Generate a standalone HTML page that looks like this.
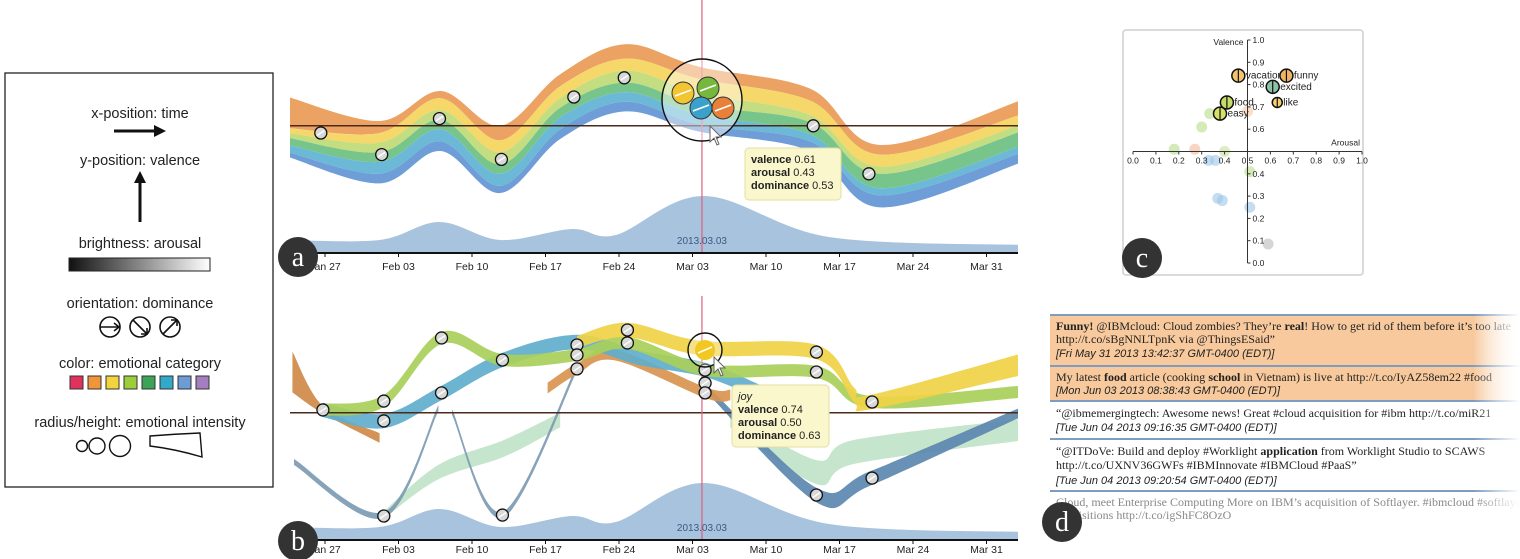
<!DOCTYPE html>
<html><head><meta charset="utf-8">
<style>
html,body{margin:0;padding:0;background:#fff;}
svg{display:block;font-family:"Liberation Sans",sans-serif;}
</style></head>
<body>
<svg id="fig" width="1520" height="559" viewBox="0 0 1520 559" xmlns="http://www.w3.org/2000/svg">
<defs>
  <linearGradient id="bright" x1="0" x2="1" y1="0" y2="0">
    <stop offset="0" stop-color="#111"/><stop offset="1" stop-color="#fff"/>
  </linearGradient>
  <linearGradient id="fadeR" x1="0" x2="1">
    <stop offset="0" stop-color="#f7c99c"/><stop offset="0.9" stop-color="#f7c99c"/><stop offset="1" stop-color="#fff"/>
  </linearGradient>
  <linearGradient id="fadeText" x1="0" x2="1">
    <stop offset="0.9" stop-color="#fff" stop-opacity="0"/><stop offset="1" stop-color="#fff" stop-opacity="1"/>
  </linearGradient>
  <clipPath id="clipA"><rect x="290" y="0" width="728" height="253"/></clipPath>
  <clipPath id="clipB"><rect x="290" y="296" width="728" height="244"/></clipPath>
  <clipPath id="clipD"><rect x="1045" y="300" width="475" height="230"/></clipPath>
</defs>

<!-- Legend -->
<g>
  <rect x="5" y="73" width="268" height="414" fill="#fff" stroke="#222" stroke-width="1.3"/>
  <g font-size="14.5" fill="#222" text-anchor="middle">
    <text x="140" y="118">x-position: time</text>
    <text x="140" y="165">y-position: valence</text>
    <text x="140" y="248">brightness: arousal</text>
    <text x="140" y="308">orientation: dominance</text>
    <text x="140" y="368">color: emotional category</text>
    <text x="140" y="427">radius/height: emotional intensity</text>
  </g>
  <g stroke="#111" stroke-width="3" fill="#111">
    <line x1="114" y1="131" x2="158" y2="131"/><path d="M154,125 L166,131 L154,137 Z" stroke="none"/>
  </g>
  <g stroke="#111" stroke-width="3" fill="#111">
    <line x1="140" y1="222" x2="140" y2="180"/><path d="M134,183 L140,171 L146,183 Z" stroke="none"/>
  </g>
  <rect x="69" y="258" width="141" height="13" fill="url(#bright)" stroke="#222" stroke-width="1"/>
  <g fill="none" stroke="#111" stroke-width="1.6">
    <circle cx="110" cy="327" r="10"/><line x1="100" y1="327" x2="119" y2="327"/><path d="M114,323 L119,327 L114,331"/>
    <circle cx="140" cy="327" r="10"/><line x1="133" y1="320" x2="147" y2="334"/><path d="M141,334 L147,334 L147,328"/>
    <circle cx="170" cy="327" r="10"/><line x1="163" y1="334" x2="177" y2="320"/><path d="M171,320 L177,320 L177,326"/>
  </g>
  <g stroke="#333" stroke-width="1">
    <rect x="70" y="376" width="13" height="13" fill="#e0325d"/>
    <rect x="88" y="376" width="13" height="13" fill="#f0953a"/>
    <rect x="106" y="376" width="13" height="13" fill="#f3d43e"/>
    <rect x="124" y="376" width="13" height="13" fill="#9dce3a"/>
    <rect x="142" y="376" width="13" height="13" fill="#3ca456"/>
    <rect x="160" y="376" width="13" height="13" fill="#33a9c9"/>
    <rect x="178" y="376" width="13" height="13" fill="#6d9bd6"/>
    <rect x="196" y="376" width="13" height="13" fill="#a57ec0"/>
  </g>
  <g fill="none" stroke="#111" stroke-width="1.4">
    <circle cx="82" cy="446" r="5.5"/><circle cx="97" cy="446" r="8"/><circle cx="120" cy="446" r="10.5"/>
    <path d="M150,436 Q175,434 200,433 L202,457 Q175,449 150,446 Z"/>
  </g>
</g>

<g id="panelA"></g>
<g id="panelB"></g>
<g id="panelC"></g>
<g id="panelD"></g>
<g id="labels"></g>
</svg>

<script>
// ---------- shared time axis data ----------
const tickDays = [0,7,14,21,28,35,42,49,56,63];
const tickLabels = ['Jan 27','Feb 03','Feb 10','Feb 17','Feb 24','Mar 03','Mar 10','Mar 17','Mar 24','Mar 31'];
const selectedDay = 35.9;
const neutralValence = 0.53;

// ---------- panel a data ----------
const aDays    = [-3.5, 5.2, 11, 16.7, 22.4, 28.6, 35.7, 46.2, 52.9, 66.5];
const aCenter  = [0.525,0.42,0.55,0.39,0.61,0.73,0.64,0.555,0.32,0.51];
const aOrange  = [0.13,0.05,0.03,0.06,0.05,0.06,0.05,0.05,0.04,0.06];
const aYellow  = [0.02,0.04,0.05,0.05,0.05,0.05,0.06,0.06,0.05,0.04];
const aLGreen  = [0.02,0.04,0.04,0.05,0.04,0.05,0.05,0.03,0.03,0.03];
const aGreen   = [0.03,0.04,0.04,0.04,0.04,0.04,0.04,0.05,0.06,0.06];
const aTeal    = [0.03,0.05,0.05,0.05,0.05,0.04,0.04,0.03,0.03,0.03];
const aBlue    = [0.02,0.04,0.04,0.03,0.04,0.04,0.03,0.04,0.05,0.04];
const aMarkDays = [-0.4,5.4,10.9,16.8,23.7,28.5,46.5,51.8];
const aMarkVal  = [0.50,0.41,0.56,0.39,0.65,0.73,0.53,0.33];
const volDays  = [-3.5,5.2,10.9,16.7,23.5,27.7,36.1,48,66.5];
const volVals  = [13,13,31,13,24,18,57,16,8];

// ---------- panel b data ----------
const bYellowDays=[24,28.8,35.8,46.8,50.4,52,66.1], bYellowVal=[.825,.875,.80,.783,.604,.575,.729], bYellowW=[.05,.06,.06,.06,.06,.06,.09];
const bLimeDays=[-0.2,5.6,11.1,16.9,24,28.8,36.3,46.8,52,66.1], bLimeVal=[.542,.579,.842,.75,.771,.821,.708,.70,.575,.617];
const bTealDays=[-0.2,5.6,11.1,16.9,24,30,36.3,41.4], bTealVal=[.542,.496,.613,.75,.825,.758,.708,.617];
const bOrange1Days=[-3.1,-0.2,5.2], bOrange1Val=[.70,.542,.425], bOrange1W=[.17,.03,.04];
const bOrange2Days=[21.2,24,27.6,36.3,38.6], bOrange2Val=[.633,.713,.771,.613,.604];
const bSteel1Days=[-2.95,5.6,10.8], bSteel1Val=[.325,.104,.55];
const bSteel2Days=[12.1,16.9,24], bSteel2Val=[.533,.104,.717];
const bSteel3Days=[36.3,46.8,52,66.1], bSteel3Val=[.633,.1875,.258,.529];
const bPaleLDays=[5.6,10.8,17.1,22.4], bPaleLVal=[.104,.283,.383,.5];
const bPaleRDays=[38.6,46.8,50.4,66.1], bPaleRVal=[.5,.283,.367,.458];
const bMarkDays=[-0.2,5.6,5.6,11.1,11.1,5.6,16.9,16.9,24,24,24,28.8,28.8,36.2,36.2,36.2,46.8,46.8,46.8,52.1,52.1];
const bMarkVal =[.542,.579,.496,.842,.613,.10,.75,.104,.8125,.771,.713,.875,.821,.708,.654,.613,.783,.70,.1875,.575,.258];

// ---------- panel c data ----------
const cWords   = ['vacation','funny','excited','like','food','easy'];
const cArousal = [0.46,0.67,0.61,0.63,0.41,0.38];
const cValence = [0.84,0.84,0.79,0.72,0.72,0.67];
const cColors  = ['#f3c46c','#f0b464','#8fc0a8','#f5cf6e','#c6dc66','#d6df6a'];
const cFadeA   = [0.335,0.30,0.18,0.27,0.40,0.33,0.36,0.51,0.37,0.39,0.51,0.59,0.50];
const cFadeV   = [0.67,0.61,0.51,0.51,0.50,0.46,0.46,0.41,0.29,0.28,0.25,0.085,0.68];
const cFadeC   = ['#b7dc88','#b7dc88','#b7dc88','#f3b89a','#c6e09a','#9fc6e6','#9fc6e6','#b7dc88','#9fc6e6','#9fc6e6','#9fc6e6','#bbbbbb','#f6c9a4'];
const cTicks   = [0,0.1,0.2,0.3,0.4,0.5,0.6,0.7,0.8,0.9,1.0];

const NS='http://www.w3.org/2000/svg';
function el(tag, attrs, parent){const e=document.createElementNS(NS,tag);for(const k in attrs)e.setAttribute(k,attrs[k]);if(parent)parent.appendChild(e);return e;}
function cr(pts){let d='';for(let i=0;i<pts.length-1;i++){const p0=pts[i-1]||pts[i],p1=pts[i],p2=pts[i+1],p3=pts[i+2]||p2;
  const c1=[p1[0]+(p2[0]-p0[0])/6,p1[1]+(p2[1]-p0[1])/6],c2=[p2[0]-(p3[0]-p1[0])/6,p2[1]-(p3[1]-p1[1])/6];
  d+=`C${c1[0].toFixed(1)},${c1[1].toFixed(1)} ${c2[0].toFixed(1)},${c2[1].toFixed(1)} ${p2[0].toFixed(1)},${p2[1].toFixed(1)}`;}return d;}
function band(up,lo){const r=lo.slice().reverse();return `M${up[0][0]},${up[0][1]}`+cr(up)+`L${r[0][0]},${r[0][1]}`+cr(r)+'Z';}
const xT = d => 325 + d*10.5;

function timeAxis(g, base, offset){
  const ax=el('line',{x1:290,y1:base,x2:1018,y2:base,stroke:'#111','stroke-width':2},g);
  
  
  tickDays.forEach((d,i)=>{
    const t=el('line',{x1:xT(d),y1:base,x2:xT(d),y2:base+4,stroke:'#111','stroke-width':1},g);
    
    
    const tx=el('text',{x:xT(d),y:base+offset,'font-size':10.5,fill:'#222','text-anchor':'middle'},g);
    tx.textContent=tickLabels[i];
    
    
  });
}
function volume(g, base, label){
  const pts=volDays.map((d,i)=>[xT(d),base-volVals[i]]);
  const p=el('path',{d:`M${pts[0][0]},${base}L${pts[0][0]},${pts[0][1]}`+cr(pts)+`L${pts[pts.length-1][0]},${base}Z`,fill:'#a8c3de'},g);
  
  
  const t=el('text',{x:xT(selectedDay),y:base-9,'font-size':10,fill:'#3a5a80','text-anchor':'middle'},g);
  t.textContent=label;
  
  
}
function marker(g,x,y,r){
  const m=el('g',{},g);
  
  
  el('circle',{cx:x,cy:y,r:r,fill:'#d8d8d8',stroke:'#111','stroke-width':1.3},m);
  el('line',{x1:x-r*0.6,y1:y+r*0.4,x2:x+r*0.6,y2:y-r*0.4,stroke:'#fff','stroke-width':1.4},m);
}
function tooltip(g,x,y,w,h,lines){
  const t=el('g',{},g);
  
  
  el('rect',{x:x,y:y,width:w,height:h,rx:4,fill:'#fbf7cc',stroke:'#e4dca0','stroke-width':1},t);
  lines.forEach((ln,i)=>{
    const tx=el('text',{x:x+6,y:y+15+i*13,'font-size':11,fill:'#222'},t);
    if(ln[0]==='joy'){tx.setAttribute('font-style','italic');tx.textContent='joy';}
    else{const b=el('tspan',{'font-weight':'bold'},tx);b.textContent=ln[0];const s=el('tspan',{},tx);s.textContent=' '+ln[1];}
  });
}
function cursor(g,x,y){
  const c=el('path',{d:`M${x},${y} L${x},${y+16} L${x+4},${y+12} L${x+7},${y+19} L${x+9},${y+18} L${x+6},${y+11} L${x+11},${y+11} Z`,fill:'#fff',stroke:'#666','stroke-width':1},g);
  
  
}

// ---------- panel a ----------
(function(){
  const g=document.getElementById('panelA');
  const yA=v=>253-v*240;
  const plot=el('g',{'clip-path':'url(#clipA)'},g);
  
  
  volume(plot,253,'2013.03.03');
  const layers=[aOrange,aYellow,aLGreen,aGreen,aTeal,aBlue];
  const cols=['#eba262','#f5d76a','#c4dd80','#78c58c','#6bb9d6','#6f9dd7'];
  const names=['orange-layer','yellow-layer','light-green-layer','green-layer','teal-layer','blue-layer'];
  let top=aDays.map((d,i)=>{const tot=layers.reduce((s,L)=>s+L[i],0);return aCenter[i]+tot/2;});
  layers.forEach((L,k)=>{
    const bot=top.map((t,i)=>t-L[i]);
    const up=aDays.map((d,i)=>[xT(d),yA(top[i])]), lo=aDays.map((d,i)=>[xT(d),yA(bot[i])]);
    const p=el('path',{d:band(up,lo),fill:cols[k]},plot);
    
    
    top=bot;
  });
  const hl=el('line',{x1:290,y1:yA(neutralValence),x2:1018,y2:yA(neutralValence),stroke:'#4a2a1a','stroke-width':1.5},plot);
  
  
  const vl=el('line',{x1:xT(selectedDay),y1:0,x2:xT(selectedDay),y2:253,stroke:'#e0607a','stroke-width':1.2},plot);
  
  
  aMarkDays.forEach((d,i)=>marker(plot,xT(d),yA(aMarkVal[i]),6));
  // selected magnified group
  const sel=el('g',{},plot);
  
  
  el('ellipse',{cx:702,cy:100,rx:40,ry:41,fill:'rgba(255,255,255,0.45)',stroke:'#111','stroke-width':1.4},sel);
  [[683,93,'#f3c531'],[708,88,'#76b83e'],[701,108,'#3aa0cc'],[723,108,'#e8803a']].forEach(c=>{
    el('circle',{cx:c[0],cy:c[1],r:11,fill:c[2],stroke:'#333','stroke-width':1},sel);
    el('line',{x1:c[0]-8,y1:c[1]+3,x2:c[0]+8,y2:c[1]-3,stroke:'#fff','stroke-width':1.6},sel);
  });
  cursor(plot,710,126);
  timeAxis(g,253,17);
  tooltip(g,745,148,96,52,[['valence','0.61'],['arousal','0.43'],['dominance','0.53']]);
})();

// ---------- panel b ----------
(function(){
  const g=document.getElementById('panelB');
  const yB=v=>540-v*240;
  const plot=el('g',{'clip-path':'url(#clipB)'},g);
  
  
  volume(plot,540,'2013.03.03');
  function ribbon(days,vals,w,color,name,op){
    const ws=Array.isArray(w)?w:days.map(()=>w);
    const up=days.map((d,i)=>[xT(d),yB(vals[i]+ws[i]/2)]), lo=days.map((d,i)=>[xT(d),yB(vals[i]-ws[i]/2)]);
    const p=el('path',{d:band(up,lo),fill:color,opacity:op||0.92},plot);
    
    
  }
  ribbon(bPaleLDays,bPaleLVal,[.03,.06,.07,.06],'#bfe2c6','pale-green-ribbon-left',0.9);
  ribbon(bPaleRDays,bPaleRVal,[.06,.1,.1,.09],'#bfe2c6','pale-green-ribbon-right',0.9);
  ribbon(bSteel1Days,bSteel1Val,.025,'#7d9bb3','steel-ribbon-1');
  ribbon(bSteel2Days,bSteel2Val,.025,'#7d9bb3','steel-ribbon-2');
  ribbon(bSteel3Days,bSteel3Val,[.03,.06,.06,.04],'#5c88b0','steel-ribbon-3');
  ribbon(bOrange1Days,bOrange1Val,bOrange1W,'#d08a48','orange-ribbon-left');
  ribbon(bOrange2Days,bOrange2Val,.045,'#d99450','orange-ribbon-mid');
  ribbon(bTealDays,bTealVal,.06,'#5faecb','teal-ribbon');
  ribbon(bLimeDays,bLimeVal,.05,'#a9cf5a','lime-ribbon');
  ribbon(bYellowDays,bYellowVal,bYellowW,'#f0d346','yellow-ribbon');
  const hl=el('line',{x1:290,y1:yB(neutralValence),x2:1018,y2:yB(neutralValence),stroke:'#4a2a1a','stroke-width':1.5},plot);
  
  
  const vl=el('line',{x1:xT(selectedDay),y1:296,x2:xT(selectedDay),y2:540,stroke:'#e0607a','stroke-width':1.2},plot);
  
  
  bMarkDays.forEach((d,i)=>marker(plot,xT(d),yB(bMarkVal[i]),6));
  const sel=el('g',{},plot);
  
  
  el('ellipse',{cx:705,cy:350,rx:17,ry:17,fill:'rgba(255,255,255,0.3)',stroke:'#111','stroke-width':1.4},sel);
  el('circle',{cx:705,cy:350,r:10,fill:'#f2c820'},sel);
  el('line',{x1:698,y1:353,x2:712,y2:347,stroke:'#fff','stroke-width':1.6},sel);
  cursor(plot,714,357);
  timeAxis(g,540,13);
  tooltip(g,732,385,97,62,[['joy'],['valence','0.74'],['arousal','0.50'],['dominance','0.63']]);
})();

// ---------- panel c ----------
(function(){
  const g=document.getElementById('panelC');
  const xC=a=>1133+a*229, yC=v=>263-v*223;
  const box=el('rect',{x:1123,y:30,width:240,height:245,rx:3,fill:'#fff',stroke:'#cfcfcf','stroke-width':1.5},g);
  
  
  cFadeA.forEach((a,i)=>{
    const c=el('circle',{cx:xC(a),cy:yC(cFadeV[i]),r:5.5,fill:cFadeC[i],opacity:0.6},g);
    
    
  });
  const ax=el('g',{stroke:'#333','stroke-width':1},g);
  
  
  el('line',{x1:xC(0),y1:yC(0.5),x2:xC(1),y2:yC(0.5)},ax);
  el('line',{x1:xC(0.5),y1:yC(0),x2:xC(0.5),y2:yC(1)},ax);
  cTicks.forEach(t=>{
    el('line',{x1:xC(t),y1:yC(0.5),x2:xC(t),y2:yC(0.5)+3},ax);
    el('line',{x1:xC(0.5),y1:yC(t),x2:xC(0.5)+3,y2:yC(t)},ax);
    const tx=el('text',{x:xC(t),y:yC(0.5)+12,'font-size':8.5,fill:'#222','text-anchor':'middle',stroke:'none'},g);
    tx.textContent=t.toFixed(1);
    
    
    if(t!==0.5){
      const ty=el('text',{x:xC(0.5)+5,y:yC(t)+3,'font-size':8.5,fill:'#222'},g);
      ty.textContent=t.toFixed(1);
      
      
    }
  });
  const vt=el('text',{x:xC(0.5)-4,y:yC(1)+5,'font-size':8.5,fill:'#222','text-anchor':'end'},g);
  vt.textContent='Valence';
  
  
  const at=el('text',{x:xC(1)-2,y:yC(0.5)-6,'font-size':8.5,fill:'#222','text-anchor':'end'},g);
  at.textContent='Arousal';
  
  
  cWords.forEach((w,i)=>{
    const x=xC(cArousal[i]),y=yC(cValence[i]),r=i===3?5:6.5;
    const c=el('g',{},g);
    
    
    el('circle',{cx:x,cy:y,r:r,fill:cColors[i],stroke:'#111','stroke-width':1.5},c);
    el('line',{x1:x,y1:y-r,x2:x,y2:y+r,stroke:'#111','stroke-width':1.2},c);
    const t=el('text',{x:x+r+1,y:y+3,'font-size':10,fill:'#222'},c);
    t.textContent=w;
  });
})();

// ---------- panel d ----------
(function(){
  const g=document.getElementById('panelD');
  const lst=el('g',{'clip-path':'url(#clipD)'},g);
  
  
  el('rect',{x:1050,y:316,width:470,height:85,fill:'url(#fadeR)'},lst);
  [315,366,401,439,491].forEach(y=>{
    const l=el('line',{x1:1050,y1:y,x2:1520,y2:y,stroke:'#7d9cc0','stroke-width':2},lst);
    
    
  });
  const rows=[
    [330,'serif',[['Funny!',1],[' @IBMcloud: Cloud zombies? They\u2019re ',0],['real',1],['! How to get rid of them before it\u2019s too late',0]]],
    [343,'serif',[['http://t.co/sBgNNLTpnK via @ThingsESaid\u201d',0]]],
    [357,'date','[Fri May 31 2013 13:42:37 GMT-0400 (EDT)]'],
    [381,'serif',[['My latest ',0],['food',1],[' article (cooking ',0],['school',1],[' in Vietnam) is live at http://t.co/IyAZ58em22 #food',0]]],
    [394,'date','[Mon Jun 03 2013 08:38:43 GMT-0400 (EDT)]'],
    [417,'serif',[['\u201c@ibmemergingtech: Awesome news! Great #cloud acquisition for #ibm http://t.co/miR21',0]]],
    [431,'date','[Tue Jun 04 2013 09:16:35 GMT-0400 (EDT)]'],
    [455,'serif',[['\u201c@ITDoVe: Build and deploy #Worklight ',0],['application',1],[' from Worklight Studio to SCAWS',0]]],
    [469,'serif',[['http://t.co/UXNV36GWFs #IBMInnovate #IBMCloud #PaaS\u201d',0]]],
    [484,'date','[Tue Jun 04 2013 09:20:54 GMT-0400 (EDT)]'],
    [506,'serif',[['Cloud, meet Enterprise Computing More on IBM\u2019s acquisition of Softlayer. #ibmcloud #softlayer',0]]],
    [519,'serif',[['acquisitions http://t.co/igShFC8OzO',0]]]
  ];
  rows.forEach((r,i)=>{
    let t;
    if(r[1]==='date'){
      t=el('text',{x:1056,y:r[0],'font-size':11,'font-style':'italic',fill:'#222'},lst);
      t.textContent=r[2];
      
    } else {
      t=el('text',{x:1056,y:r[0],'font-size':12,'font-family':'"Liberation Serif",serif',fill:i>=10?'#888':'#222'},lst);
      r[2].forEach(s=>{const sp=el('tspan',s[1]?{'font-weight':'bold'}:{},t);sp.textContent=s[0];});
      
    }
    
  });
  el('rect',{x:1050,y:300,width:470,height:230,fill:'url(#fadeText)'},lst);
})();

// ---------- panel letter labels ----------
(function(){
  const g=document.getElementById('labels');
  [['a',298,257],['b',298,541],['c',1142,258],['d',1062,522]].forEach(L=>{
    const c=el('g',{},g);
    
    
    el('circle',{cx:L[1],cy:L[2],r:20,fill:'#333'},c);
    const t=el('text',{x:L[1],y:L[2]+9,'font-size':28,'font-family':'"Liberation Serif",serif',fill:'#fff','text-anchor':'middle'},c);
    t.textContent=L[0];
  });
})();
</script>
</body></html>
